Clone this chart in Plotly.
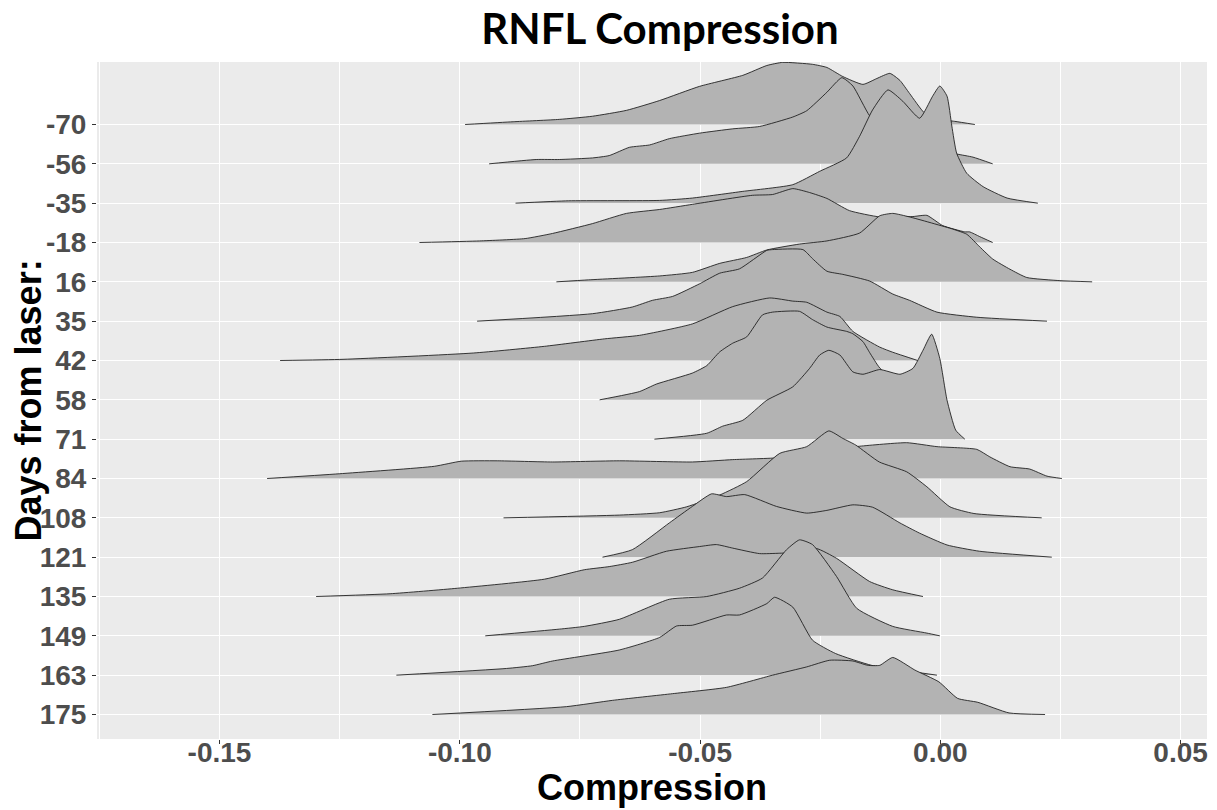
import plotly.graph_objects as go

# Categories (top to bottom in the chart)
days = ["-70", "-56", "-35", "-18", "16", "35", "42", "58", "71", "84",
        "108", "121", "135", "149", "163", "175"]

# Ridge profiles: x = Compression, h = scaled density (in row units)
x_m70 = [-0.0989, -0.0889, -0.0793, -0.0724, -0.0653, -0.0584, -0.0501, -0.0411, -0.0361, -0.0328,
         -0.0266, -0.0236, -0.0203, -0.0161, -0.0132, -0.0105, -0.0084, -0.0064, -0.0032, -0.0001, 0.0030, 0.0072]
h_m70 = [0, 0.07, 0.13, 0.21, 0.36, 0.61, 0.97, 1.25, 1.50, 1.58,
         1.53, 1.45, 1.22, 1.02, 1.17, 1.30, 1.12, 0.79, 0.28, 0.13, 0.08, 0]

x_m56 = [-0.0939, -0.0841, -0.0793, -0.0724, -0.0689, -0.0647, -0.0605, -0.0564, -0.0501, -0.0432,
         -0.0376, -0.0307, -0.0278, -0.0236, -0.0205, -0.0182, -0.0147, -0.0116, -0.0084, -0.0022,
         0.0034, 0.0068, 0.0109]
h_m56 = [0, 0.11, 0.11, 0.15, 0.21, 0.42, 0.48, 0.64, 0.78, 0.89,
         0.95, 1.19, 1.35, 1.82, 2.19, 1.98, 1.22, 0.89, 0.71, 0.41,
         0.25, 0.17, 0]

x_m35 = [-0.0884, -0.0774, -0.0584, -0.0516, -0.0411, -0.0307, -0.0251, -0.0195, -0.0168, -0.0141,
         -0.0109, -0.0078, -0.0043, -0.0016, -0.0001, 0.0014, 0.0024, 0.0034, 0.0055, 0.0089,
         0.0139, 0.0203]
h_m35 = [0, 0.06, 0.07, 0.13, 0.30, 0.47, 0.81, 1.15, 1.70, 2.37,
         2.88, 2.59, 2.16, 2.72, 2.98, 2.72, 1.96, 1.27, 0.76, 0.42,
         0.13, 0]

x_m18 = [-0.1084, -0.0959, -0.0864, -0.0807, -0.0724, -0.0653, -0.0584, -0.0516, -0.0391, -0.0349,
         -0.0307, -0.0272, -0.0236, -0.0189, -0.0126, -0.0057, -0.0028, 0.0005, 0.0051, 0.0061,
         0.0082, 0.0109]
h_m18 = [0, 0.04, 0.10, 0.23, 0.48, 0.74, 0.84, 0.97, 1.20, 1.22,
         1.37, 1.27, 1.12, 0.81, 0.65, 0.66, 0.69, 0.43, 0.27, 0.27,
         0.15, 0]

x_16 = [-0.0799, -0.0732, -0.0584, -0.0516, -0.0459, -0.0403, -0.0361, -0.0293, -0.0236, -0.0168,
        -0.0126, -0.0099, -0.0064, 0.0026, 0.0055, 0.0082, 0.0109, 0.0145, 0.0180, 0.0249, 0.0316]
h_16 = [0, 0.05, 0.15, 0.24, 0.47, 0.62, 0.81, 0.96, 1.04, 1.24,
        1.68, 1.74, 1.65, 1.34, 1.21, 0.89, 0.58, 0.32, 0.11, 0.03, 0]

x_35 = [-0.0964, -0.0724, -0.0641, -0.0599, -0.0557, -0.0501, -0.0459, -0.0418, -0.0361, -0.0349,
        -0.0286, -0.0266, -0.0236, -0.0203, -0.0147, -0.0099, -0.0064, -0.0007, 0.0076, 0.0222]
h_35 = [0, 0.19, 0.36, 0.53, 0.63, 0.95, 1.22, 1.33, 1.80, 1.82,
        1.82, 1.59, 1.27, 1.19, 1.02, 0.69, 0.53, 0.23, 0.10, 0]

x_42 = [-0.1374, -0.1243, -0.0972, -0.0824, -0.0699, -0.0626, -0.0516, -0.0432, -0.0355, -0.0307,
        -0.0278, -0.0236, -0.0209, -0.0182, -0.0126, -0.0099, -0.0047]
h_42 = [0, 0.03, 0.19, 0.36, 0.55, 0.64, 0.93, 1.37, 1.59, 1.51,
        1.48, 1.23, 1.12, 0.74, 0.34, 0.21, 0]

x_58 = [-0.0709, -0.0626, -0.0591, -0.0516, -0.0486, -0.0459, -0.0432, -0.0403, -0.0370, -0.0349,
        -0.0293, -0.0266, -0.0236, -0.0195, -0.0182, -0.0161, -0.0147, -0.0126, -0.0084, -0.0053, -0.0022]
h_58 = [0, 0.21, 0.40, 0.68, 0.87, 1.22, 1.44, 1.60, 2.16, 2.23,
        2.25, 2.04, 1.85, 1.74, 1.68, 1.48, 1.20, 0.81, 0.38, 0.15, 0]

x_71 = [-0.0595, -0.0486, -0.0453, -0.0411, -0.0361, -0.0307, -0.0272, -0.0251, -0.0232, -0.0209,
        -0.0182, -0.0161, -0.0126, -0.0084, -0.0057, -0.0036, -0.0018, -0.0001, 0.0014, 0.0032, 0.0051]
h_71 = [0, 0.15, 0.33, 0.48, 0.99, 1.33, 1.80, 2.14, 2.26, 2.14,
        1.71, 1.65, 1.77, 1.65, 1.80, 2.26, 2.67, 2.05, 0.99, 0.23, 0]

x_84 = [-0.1401, -0.1251, -0.1053, -0.0997, -0.0922, -0.0807, -0.0668, -0.0516, -0.0432, -0.0334,
        -0.0251, -0.0168, -0.0070, -0.0007, 0.0076, 0.0103, 0.0145, 0.0186, 0.0222, 0.0253]
h_84 = [0, 0.12, 0.31, 0.44, 0.45, 0.42, 0.45, 0.42, 0.48, 0.53,
        0.69, 0.82, 0.91, 0.81, 0.74, 0.55, 0.30, 0.24, 0.06, 0]

x_108 = [-0.0909, -0.0668, -0.0584, -0.0528, -0.0459, -0.0403, -0.0334, -0.0278, -0.0232, -0.0203,
         -0.0176, -0.0127, -0.0070, -0.0028, 0.0020, 0.0070, 0.0211]
h_108 = [0, 0.07, 0.13, 0.28, 0.58, 0.92, 1.64, 1.81, 2.21, 2.02,
         1.85, 1.42, 1.17, 0.79, 0.28, 0.11, 0]

x_121 = [-0.0703, -0.0641, -0.0564, -0.0516, -0.0476, -0.0445, -0.0407, -0.0341, -0.0278, -0.0236,
         -0.0182, -0.0141, -0.0084, -0.0043, 0.0014, 0.0082, 0.0232]
h_121 = [0, 0.19, 0.87, 1.29, 1.61, 1.54, 1.59, 1.29, 1.12, 1.19,
         1.33, 1.27, 0.87, 0.61, 0.31, 0.15, 0]

x_135 = [-0.1299, -0.1145, -0.1005, -0.0824, -0.0741, -0.0689, -0.0641, -0.0570, -0.0501, -0.0466,
         -0.0432, -0.0376, -0.0334, -0.0293, -0.0258, -0.0216, -0.0147, -0.0099, -0.0036]
h_135 = [0, 0.07, 0.21, 0.44, 0.68, 0.76, 0.87, 1.15, 1.27, 1.32,
         1.23, 1.09, 1.10, 1.12, 1.22, 0.97, 0.38, 0.17, 0]

x_149 = [-0.0947, -0.0793, -0.0741, -0.0668, -0.0564, -0.0486, -0.0418, -0.0370, -0.0320, -0.0293,
         -0.0266, -0.0216, -0.0174, -0.0099, -0.0028, -0.0001]
h_149 = [0, 0.17, 0.24, 0.42, 0.93, 1.00, 1.21, 1.47, 2.19, 2.44,
         2.32, 1.51, 0.70, 0.24, 0.07, 0]

x_163 = [-0.1132, -0.0903, -0.0849, -0.0807, -0.0668, -0.0584, -0.0549, -0.0516, -0.0445, -0.0418,
         -0.0361, -0.0345, -0.0307, -0.0266, -0.0218, -0.0143, -0.0053, -0.0007]
h_163 = [0, 0.17, 0.24, 0.36, 0.64, 0.96, 1.25, 1.27, 1.53, 1.53,
         1.82, 1.98, 1.73, 0.89, 0.55, 0.25, 0.08, 0]

x_175 = [-0.1057, -0.0778, -0.0682, -0.0557, -0.0445, -0.0349, -0.0278, -0.0230, -0.0182, -0.0151,
         -0.0126, -0.0099, -0.0053, -0.0003, 0.0036, 0.0078, 0.0143, 0.0218]
h_175 = [0, 0.20, 0.36, 0.53, 0.69, 1.00, 1.21, 1.38, 1.36, 1.25,
         1.25, 1.45, 1.13, 0.83, 0.41, 0.31, 0.04, 0]

ridge_x = [x_m70, x_m56, x_m35, x_m18, x_16, x_35, x_42, x_58, x_71, x_84,
           x_108, x_121, x_135, x_149, x_163, x_175]
ridge_h = [h_m70, h_m56, h_m35, h_m18, h_16, h_35, h_42, h_58, h_71, h_84,
           h_108, h_121, h_135, h_149, h_163, h_175]

x_ticks = [-0.15, -0.10, -0.05, 0.00, 0.05]
x_ticktext = ["-0.15", "-0.10", "-0.05", "0.00", "0.05"]
x_minor = [-0.175, -0.125, -0.075, -0.025, 0.025]

n = len(days)
FILL = "#B3B3B3"
fig = go.Figure()
for k, (xs, hs) in enumerate(zip(ridge_x, ridge_h)):
    base = n - 1 - k
    top = [base + h for h in hs]
    # invisible baseline, then the ridge top filled down to it
    fig.add_trace(go.Scatter(
        x=xs, y=[base] * len(xs), mode="lines", line=dict(width=0, color=FILL),
        hoverinfo="skip", showlegend=False))
    fig.add_trace(go.Scatter(
        x=xs, y=top, mode="lines", fill="tonexty", fillcolor=FILL,
        line=dict(color="rgba(25,25,25,0.85)", width=1.0, shape="spline", smoothing=0.5),
        name=days[k], showlegend=False))

tick_font = dict(family="Liberation Sans, Arial", size=28, color="#4D4D4D", weight="bold")
title_font = dict(family="Liberation Sans, Arial", size=36, color="black", weight="bold")

fig.update_layout(
    width=1217, height=810,
    margin=dict(l=97, r=10, t=62, b=71, autoexpand=False),
    paper_bgcolor="white", plot_bgcolor="#EBEBEB",
    title=dict(text="RNFL Compression", x=(660 - 97) / 1110, xref="paper", xanchor="center",
               y=1 - 29 / 810, yref="container", yanchor="middle",
               font=dict(family="Lato", size=42, color="black", weight="bold")),
    xaxis=dict(range=[-0.1755, 0.0555], tickmode="array", tickvals=x_ticks, ticktext=x_ticktext,
               showgrid=True, gridcolor="white", gridwidth=1.2, zeroline=False,
               minor=dict(tickmode="array", tickvals=x_minor, showgrid=True,
                          gridcolor="white", gridwidth=0.6, ticks=""),
               ticks="outside", ticklen=4, tickwidth=1.1, tickcolor="#333333",
               ticklabelstandoff=-16, tickfont=tick_font, showline=False, automargin=False),
    yaxis=dict(range=[-0.623, 16.589], tickmode="array", tickvals=list(range(n)),
               ticktext=days[::-1], showgrid=True, gridcolor="white", gridwidth=1.2,
               zeroline=False, ticks="outside", ticklen=4, tickwidth=1.1, tickcolor="#333333",
               tickfont=tick_font, showline=False, automargin=False),
    annotations=[
        dict(text="Compression", xref="paper", yref="paper", x=0.5, y=-0.072,
             xanchor="center", yanchor="middle", showarrow=False, font=title_font),
        dict(text="Days from laser:", xref="paper", yref="paper", x=(28 - 97) / 1110, y=0.5,
             xanchor="center", yanchor="middle", textangle=-90, showarrow=False, font=title_font),
    ],
)

fig.write_html("out.html")
